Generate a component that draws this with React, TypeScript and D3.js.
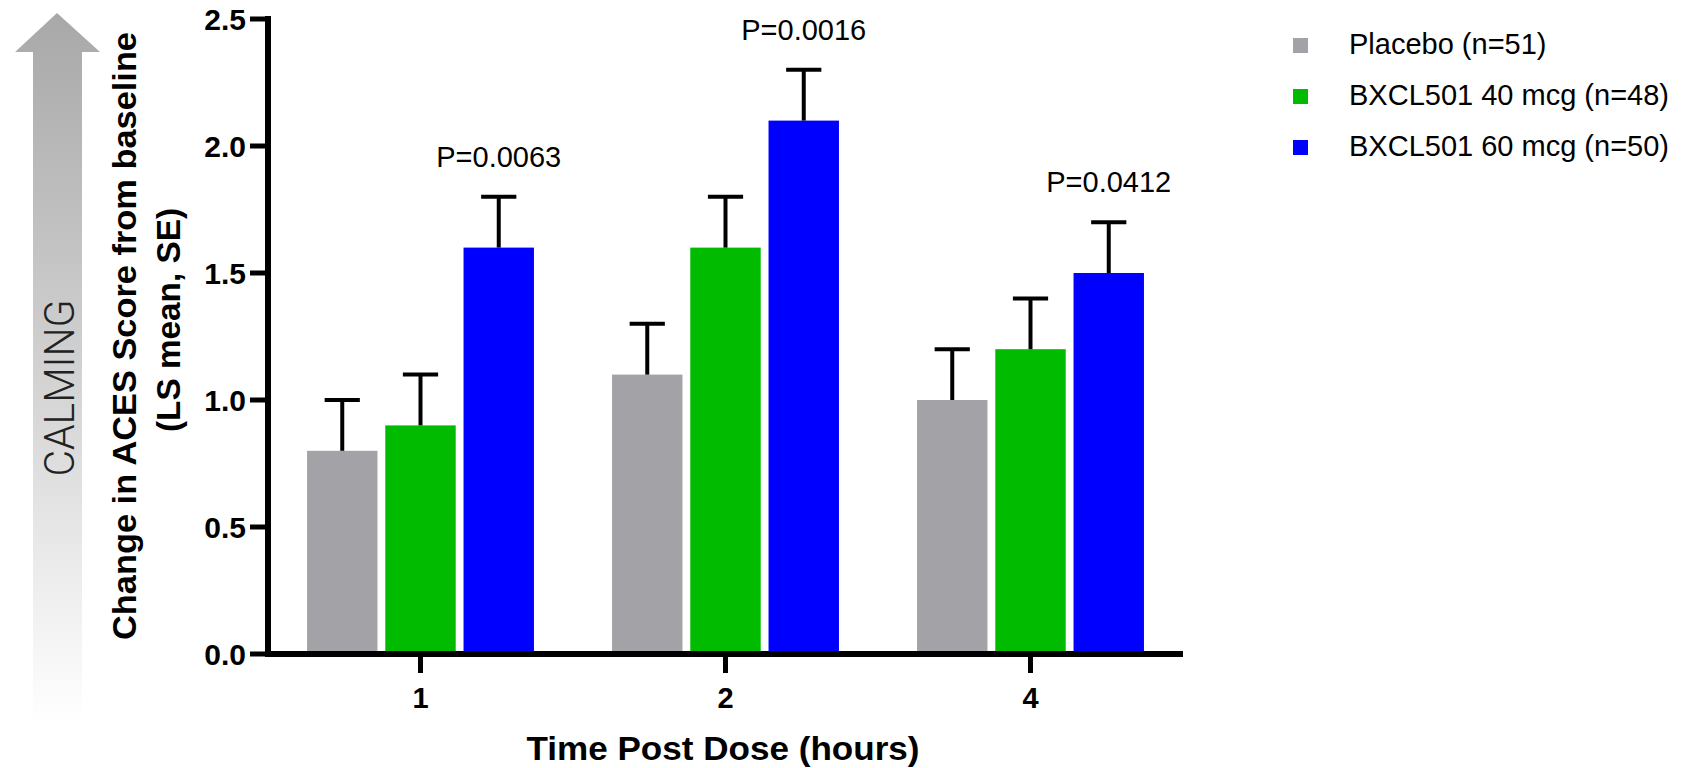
import { useEffect } from "react";
import * as d3 from "d3";

const times = ["1", "2", "4"];
const groups = ["Placebo (n=51)", "BXCL501 40 mcg (n=48)", "BXCL501 60 mcg (n=50)"];
const colors = ["#a3a3a7", "#00bb00", "#0000fe"];

const placebo = [0.8, 1.1, 1.0];
const mcg40 = [0.9, 1.6, 1.2];
const mcg60 = [1.6, 2.1, 1.5];
const placeboSE = [0.2, 0.2, 0.2];
const mcg40SE = [0.2, 0.2, 0.2];
const mcg60SE = [0.2, 0.2, 0.2];

const pValues = ["P=0.0063", "P=0.0016", "P=0.0412"];
const yTicks = [0, 0.5, 1.0, 1.5, 2.0, 2.5];

const font = "'Liberation Sans', Arial, sans-serif";

export default function App() {
  useEffect(() => {
    document.body.style.margin = "0";
  }, []);

  const width = 1682;
  const height = 768;

  const x = d3.scaleBand().domain(times).range([268, 1183]).paddingInner(0.256).paddingOuter(0.128);
  const xi = d3.scaleBand().domain(groups).range([0, x.bandwidth()]).paddingInner(0.1);
  const y = d3.scaleLinear().domain([0, 2.5]).range([654, 19]);

  const values = [placebo, mcg40, mcg60];
  const errors = [placeboSE, mcg40SE, mcg60SE];

  const bars = times.flatMap((t, i) =>
    groups.map((g, j) => ({ t, g, j, v: values[j][i], se: errors[j][i] }))
  );

  const capW = xi.bandwidth() / 2;

  return (
    <svg width={width} height={height} style={{ display: "block", background: "#fff" }}>
      <defs>
        <linearGradient id="calm" x1="0" y1="0" x2="0" y2="1">
          <stop offset="0%" stopColor="#a8a8a8" />
          <stop offset="45%" stopColor="#cdcdcd" />
          <stop offset="100%" stopColor="#ffffff" />
        </linearGradient>
      </defs>

      {/* calming arrow */}
      <path d="M57,13 L100,52 L82,52 L82,722 L33,722 L33,52 L15,52 Z" fill="url(#calm)" />
      <text
        transform="translate(74,388) rotate(-90)"
        textAnchor="middle"
        fontFamily="Roboto, 'Liberation Sans', sans-serif"
        fontWeight={300}
        fontSize={43}
        fill="#222"
        textLength={177}
        lengthAdjust="spacingAndGlyphs"
      >
        CALMING
      </text>

      {/* y title */}
      <g fontFamily={font} fontWeight="bold" fontSize={34} fill="#000" textAnchor="middle">
        <text transform="translate(136,336) rotate(-90)" textLength={608} lengthAdjust="spacingAndGlyphs">
          Change in ACES Score from baseline
        </text>
        <text transform="translate(180,320) rotate(-90)" textLength={224} lengthAdjust="spacingAndGlyphs">
          (LS mean, SE)
        </text>
      </g>

      {/* bars */}
      {bars.map((b) => (
        <rect
          key={b.t + b.g}
          x={(x(b.t) ?? 0) + (xi(b.g) ?? 0)}
          y={y(b.v)}
          width={xi.bandwidth()}
          height={y(0) - y(b.v)}
          fill={colors[b.j]}
        />
      ))}

      {/* error bars */}
      {bars.map((b) => {
        const cx = (x(b.t) ?? 0) + (xi(b.g) ?? 0) + xi.bandwidth() / 2;
        return (
          <g key={"e" + b.t + b.g} stroke="#000" strokeWidth={4}>
            <line x1={cx} x2={cx} y1={y(b.v)} y2={y(b.v + b.se)} />
            <line x1={cx - capW / 2} x2={cx + capW / 2} y1={y(b.v + b.se)} y2={y(b.v + b.se)} />
          </g>
        );
      })}

      {/* p values over the 60 mcg bars */}
      {times.map((t, i) => (
        <text
          key={"p" + t}
          x={(x(t) ?? 0) + (xi(groups[2]) ?? 0) + xi.bandwidth() / 2}
          y={y(mcg60[i] + mcg60SE[i]) - 30}
          textAnchor="middle"
          fontFamily={font}
          fontSize={29}
          fill="#000"
        >
          {pValues[i]}
        </text>
      ))}

      {/* y axis */}
      <line x1={268} x2={268} y1={y(2.5) - 3} y2={y(0) + 3} stroke="#000" strokeWidth={6} />
      {yTicks.map((v) => (
        <g key={"y" + v}>
          <line x1={250} x2={268} y1={y(v)} y2={y(v)} stroke="#000" strokeWidth={5} />
          <text
            x={246}
            y={y(v)}
            dy="0.36em"
            textAnchor="end"
            fontFamily={font}
            fontWeight="bold"
            fontSize={30}
            fill="#000"
          >
            {d3.format(".1f")(v)}
          </text>
        </g>
      ))}

      {/* x axis */}
      <line x1={265} x2={1183} y1={y(0)} y2={y(0)} stroke="#000" strokeWidth={6} />
      {times.map((t) => {
        const cx = (x(t) ?? 0) + x.bandwidth() / 2;
        return (
          <g key={"x" + t}>
            <line x1={cx} x2={cx} y1={y(0)} y2={y(0) + 19} stroke="#000" strokeWidth={5} />
            <text
              x={cx}
              y={708}
              textAnchor="middle"
              fontFamily={font}
              fontWeight="bold"
              fontSize={29}
              fill="#000"
            >
              {t}
            </text>
          </g>
        );
      })}
      <text
        x={723}
        y={760}
        textAnchor="middle"
        fontFamily={font}
        fontWeight="bold"
        fontSize={34}
        fill="#000"
        textLength={393}
        lengthAdjust="spacingAndGlyphs"
      >
        Time Post Dose (hours)
      </text>

      {/* legend */}
      {groups.map((g, j) => (
        <g key={"l" + g} transform={`translate(1293,${38 + j * 51})`}>
          <rect width={15} height={15} fill={colors[j]} />
          <text x={56} y={16} fontFamily={font} fontSize={29} fill="#000">
            {g}
          </text>
        </g>
      ))}
    </svg>
  );
}
